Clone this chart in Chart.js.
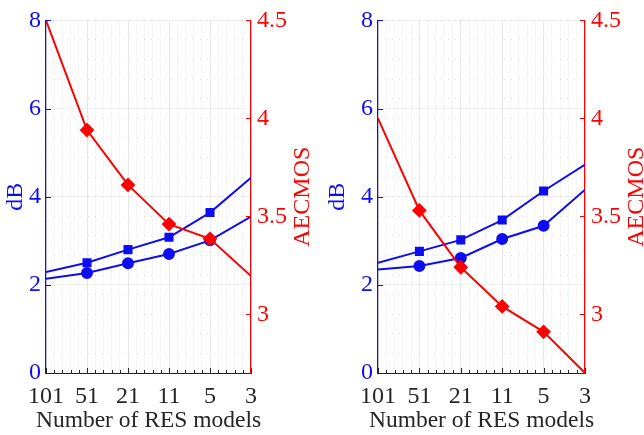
<!DOCTYPE html>
<html>
<head>
<meta charset="utf-8">
<script src="https://cdn.jsdelivr.net/npm/chart.js@4.4.0/dist/chart.umd.min.js"></script>
<style>
  html, body { margin: 0; padding: 0; background: #ffffff; }
  .wrap { position: relative; width: 644px; height: 435px; }
  canvas { position: absolute; top: 0; }
</style>
</head>
<body>
<div class="wrap">
  <canvas id="chartA" width="322" height="435" style="left:0px"></canvas>
  <canvas id="chartB" width="322" height="435" style="left:322px"></canvas>
</div>
<script>
// données
const categories = ['101', '51', '21', '11', '5', '3'];

// graphique de gauche
const dbSquareA = [2.29, 2.50, 2.80, 3.08, 3.64, 4.43];
const dbCircleA = [2.14, 2.27, 2.49, 2.70, 3.01, 3.55];
const aecmosA = [4.50, 3.94, 3.66, 3.46, 3.385, 3.195];

// graphique de droite
const dbSquareB = [2.50, 2.76, 3.02, 3.47, 4.13, 4.73];
const dbCircleB = [2.35, 2.43, 2.61, 3.04, 3.34, 4.16];
const aecmosB = [4.00, 3.53, 3.24, 3.04, 2.91, 2.70];

// graduations
const dbTicks = [0, 2, 4, 6, 8];
const aecmosTicks = [3, 3.5, 4, 4.5];

const BLUE = '#0d0df2';
const RED = '#ff0000';
const DARK = '#262626';
const FONT = 'Liberation Serif';

// pas de marqueur aux deux extrémités
const markers = (r) => categories.map((c, i) => (i === 0 || i === categories.length - 1) ? 0 : r);
const toPoints = (arr) => arr.map((v, i) => ({ x: i, y: v }));

// petits traits de graduation vers l'intérieur + titres AECMOS et axe X
const insideTicks = {
    id: 'insideTicks',
    afterDraw(chart) {
        const ctx = chart.ctx;
        const a = chart.chartArea;
        const sx = chart.scales.x, sy = chart.scales.y, sy2 = chart.scales.y2;
        ctx.save();
        ctx.lineWidth = 1;
        ctx.strokeStyle = BLUE;
        dbTicks.forEach(v => {
            const py = Math.round(sy.getPixelForValue(v)) + 0.5;
            ctx.beginPath(); ctx.moveTo(a.left, py); ctx.lineTo(a.left + 5, py); ctx.stroke();
        });
        ctx.strokeStyle = RED;
        aecmosTicks.forEach(v => {
            const py = Math.round(sy2.getPixelForValue(v)) + 0.5;
            ctx.beginPath(); ctx.moveTo(a.right - 5, py); ctx.lineTo(a.right, py); ctx.stroke();
        });
        ctx.strokeStyle = DARK;
        for (let i = 0; i <= (categories.length - 1) * 5; i++) {
            const px = Math.round(sx.getPixelForValue(i / 5)) + 0.5;
            const len = i % 5 === 0 ? 5 : 3;
            ctx.beginPath(); ctx.moveTo(px, a.bottom); ctx.lineTo(px, a.bottom - len); ctx.stroke();
        }
        // titre de l'axe X (sans compression de largeur)
        ctx.fillStyle = DARK;
        ctx.font = '23.5px "' + FONT + '"';
        ctx.textAlign = 'center';
        ctx.textBaseline = 'alphabetic';
        ctx.fillText('Number of RES models', (a.left + a.right) / 2, 427);
        // titre de l'axe de droite, lu de bas en haut
        ctx.fillStyle = RED;
        ctx.font = '24px "' + FONT + '"';
        ctx.textBaseline = 'middle';
        ctx.translate(a.right + 52, (a.top + a.bottom) / 2);
        ctx.rotate(-Math.PI / 2);
        ctx.fillText('AECMOS', 0, 0);
        ctx.restore();
    }
};

function createChart(id, sq, ci, ae, leftW, rightW) {
    const config = {
        type: 'line',
        data: {
            datasets: [{
                label: 'AECMOS',
                data: toPoints(ae),
                yAxisID: 'y2',
                borderColor: RED,
                backgroundColor: RED,
                borderWidth: 2,
                pointStyle: 'rectRot',
                pointRadius: markers(6),
                tension: 0
            },
            {
                label: 'dB carré',
                data: toPoints(sq),
                yAxisID: 'y',
                borderColor: BLUE,
                backgroundColor: BLUE,
                borderWidth: 2,
                pointStyle: 'rect',
                pointRadius: markers(5),
                tension: 0
            },
            {
                label: 'dB rond',
                data: toPoints(ci),
                yAxisID: 'y',
                borderColor: BLUE,
                backgroundColor: BLUE,
                borderWidth: 2,
                pointStyle: 'circle',
                pointRadius: markers(5),
                tension: 0
            }]
        },
        options: {
            responsive: false,
            animation: false,
            layout: { padding: { top: 13, left: 0, right: 0, bottom: 0 } },
            scales: {
                x: {
                    type: 'linear',
                    min: 0,
                    max: categories.length - 1,
                    afterBuildTicks: (scale) => {
                        const t = [];
                        for (let i = 0; i <= (categories.length - 1) * 5; i++) t.push({ value: i / 5 });
                        scale.ticks = t;
                    },
                    afterFit: (scale) => { scale.height = 62; },
                    grid: {
                        drawTicks: false,
                        color: (c) => (c.index % 5 === 0) ? 'rgba(0,0,0,0.09)' : 'rgba(0,0,0,0.035)'
                    },
                    border: { color: DARK, width: 1 },
                    ticks: {
                        autoSkip: false,
                        maxRotation: 0,
                        padding: 9,
                        color: DARK,
                        font: { family: FONT, size: 24 },
                        callback: (v, i) => (i % 5 === 0) ? categories[i / 5] : ''
                    },
                    title: { display: false }
                },
                y: {
                    position: 'left',
                    min: 0,
                    max: 8,
                    afterBuildTicks: (scale) => { scale.ticks = dbTicks.map(v => ({ value: v })); },
                    afterFit: (scale) => { scale.width = leftW; },
                    grid: { drawTicks: false, color: 'rgba(0,0,0,0.05)' },
                    border: { color: BLUE, width: 1.2 },
                    ticks: {
                        padding: 5,
                        color: BLUE,
                        font: { family: FONT, size: 24 }
                    },
                    title: {
                        display: true,
                        text: 'dB',
                        color: BLUE,
                        font: { family: FONT, size: 24 },
                        padding: { top: 1, bottom: 0 }
                    }
                },
                y2: {
                    position: 'right',
                    min: 2.7,
                    max: 4.5,
                    afterBuildTicks: (scale) => {
                        const t = [];
                        for (let k = 27; k <= 45; k++) t.push({ value: k / 10 });
                        scale.ticks = t;
                    },
                    afterFit: (scale) => { scale.width = rightW; },
                    grid: {
                        drawTicks: false,
                        color: 'rgba(230,60,40,0.22)'
                    },
                    border: { color: RED, width: 1.2, dash: [1, 6] },
                    ticks: {
                        autoSkip: false,
                        padding: 6,
                        color: RED,
                        font: { family: FONT, size: 24 },
                        callback: (v) => aecmosTicks.some(t => Math.abs(t - v) < 1e-6) ? String(Math.round(v * 10) / 10) : ''
                    }
                }
            },
            plugins: {
                legend: { display: false },
                tooltip: { enabled: false }
            }
        },
        plugins: [insideTicks]
    };
    const ctx = document.getElementById(id).getContext('2d');
    return new Chart(ctx, config);
}

createChart('chartA', dbSquareA, dbCircleA, aecmosA, 46, 71);
createChart('chartB', dbSquareB, dbCircleB, aecmosB, 56, 59);
</script>
</body>
</html>
